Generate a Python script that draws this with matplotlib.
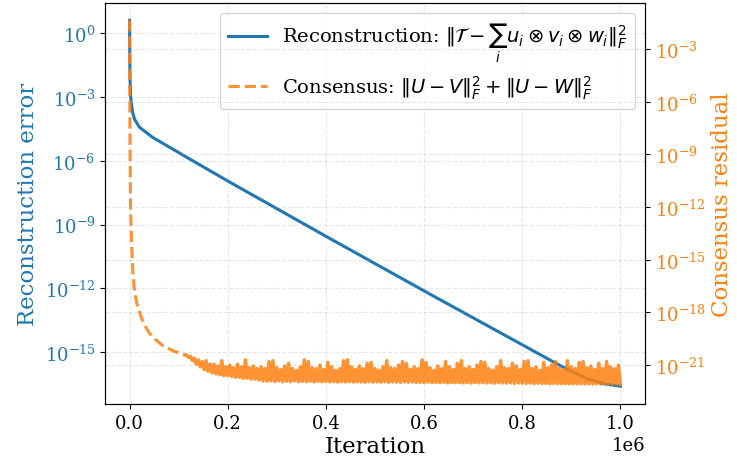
import numpy as np
import matplotlib

matplotlib.use("Agg")
import matplotlib.pyplot as plt

# reconstruction error (log10)
recon_iter = [0, 500, 1000, 2000, 3000, 6000, 10000, 20000, 47000, 116000, 200000,
              400000, 612000, 800000, 863000, 900000, 933000, 966000, 1000000]
recon_log = [0.6, -1.2, -2.2, -2.9, -3.2, -3.7, -4.04, -4.42, -4.9, -5.83, -6.95,
             -9.55, -12.27, -14.65, -15.45, -15.9, -16.25, -16.48, -16.6]

# consensus residual (log10), smooth early part
consensus_iter = [0, 500, 1000, 2000, 4000, 7000, 10000, 15000, 24000, 32000, 41000,
                  55000, 68000, 90000, 116000]
consensus_log = [-1.35, -6.0, -9.0, -12.0, -14.0, -15.8, -16.8, -17.5, -18.3, -18.8, -19.2,
                 -19.6, -19.9, -20.2, -20.45]

# consensus residual (log10), noisy floor from 116k to 1M iterations:
# upper and lower values of each oscillation
noise_start, noise_stop = 116000, 1000000
noise_high = [
    -20.45, -20.5, -20.6, -20.7, -20.8, -20.75, -20.95,
    -20.95, -21.05, -20.75, -21.1, -21.0, -21.15, -20.95, -21.1, -20.7, -21.15, -21.05, -21.2,
    -21.1, -21.2, -20.8, -20.75, -21.15, -21.25, -21.05, -20.9, -21.2, -21.3,
    -21.1, -20.7, -20.8, -21.15, -21.2, -21.0, -21.25, -20.85, -21.1, -21.3,
    -21.2, -20.75, -20.7, -21.1, -21.25, -21.05, -21.2, -20.9, -20.85, -21.2,
    -21.3, -21.1, -20.75, -21.15, -21.2, -21.0, -20.8, -20.9, -21.25, -21.1,
    -21.2, -20.7, -20.85, -21.15, -21.3, -21.05, -21.2, -20.8, -21.1, -21.25,
    -20.9, -20.75, -21.2, -21.1, -21.25, -21.0, -20.8, -20.85, -21.2, -21.3,
    -21.1, -20.75, -21.15, -21.2, -20.9, -21.05, -21.25, -20.8, -20.75, -21.2,
    -21.1, -21.3, -20.85, -21.15, -21.0, -20.8, -21.2, -21.25, -20.75, -21.1,
    -21.2, -20.85, -20.8, -21.15, -21.05, -21.25, -20.9, -21.2, -20.8, -21.1,
    -21.2, -21.0,
]
noise_low = [
    -20.55, -20.75, -20.95, -21.1, -21.25, -21.35, -21.45,
    -21.5, -21.55, -21.6, -21.6, -21.65, -21.7, -21.7, -21.75, -21.75, -21.8, -21.8, -21.85,
    -21.9, -21.92, -21.9, -21.93, -21.9, -21.95, -21.92, -21.94, -21.9, -21.95,
    -21.93, -21.95, -21.92, -21.96, -21.94, -21.95, -21.93, -21.96, -21.95, -21.97,
    -21.95, -21.96, -21.94, -21.97, -21.95, -21.96, -21.98, -21.95, -21.97, -21.96,
    -21.97, -21.95, -21.98, -21.96, -21.97, -21.99, -21.96, -21.98, -21.97, -21.99,
    -21.98, -22.0, -21.97, -21.99, -21.98, -22.0, -21.98, -22.01, -21.99, -22.0,
    -21.99, -22.01, -22.0, -22.02, -21.99, -22.01, -22.0, -22.02, -22.01, -22.03,
    -22.0, -22.02, -22.03, -22.01, -22.04, -22.02, -22.03, -22.04, -22.02, -22.05,
    -22.03, -22.05, -22.04, -22.06, -22.04, -22.05, -22.06, -22.05, -22.07, -22.06,
    -22.07, -22.06, -22.08, -22.07, -22.08, -22.07, -22.09, -22.08, -22.09, -22.08,
    -22.1, -22.1,
]

plt.rcParams["font.family"] = "DejaVu Serif"

blue = "#1f77b4"
orange = "#ff7f0e"

fig, ax1 = plt.subplots(figsize=(7.37, 4.64), dpi=100)
fig.subplots_adjust(left=0.1425, right=0.875, bottom=0.127, top=0.991)
ax2 = ax1.twinx()

(l1,) = ax1.plot(recon_iter, 10.0 ** np.array(recon_log), color=blue, lw=2.2,
                 label=r"Reconstruction: $\|\mathcal{T} - \sum_i u_i \otimes v_i \otimes w_i\|_F^2$")
(l2,) = ax2.plot(consensus_iter, 10.0 ** np.array(consensus_log), color=orange, lw=2.2, ls="--",
                 alpha=0.85, label=r"Consensus: $\|U - V\|_F^2 + \|U - W\|_F^2$")

# the floor oscillates every sample: interleave high and low readings
noise_log = np.column_stack([noise_high, noise_low]).ravel()
noise_iter = np.linspace(noise_start, noise_stop, len(noise_log))
ax2.plot(noise_iter, 10.0 ** noise_log, color=orange, lw=2.5, alpha=0.85)

ax1.set_yscale("log")
ax2.set_yscale("log")
ax1.set_ylim(10 ** -17.44, 10 ** 1.41)
ax2.set_ylim(10 ** -23.22, 10 ** -0.38)
ax1.yaxis.set_minor_locator(matplotlib.ticker.NullLocator())
ax2.yaxis.set_minor_locator(matplotlib.ticker.NullLocator())

ax1.set_xlabel("Iteration", fontsize=16.5, labelpad=2)
ax1.set_ylabel("Reconstruction error", color=blue, fontsize=16.5)
ax2.set_ylabel("Consensus residual", color=orange, fontsize=16.5)
ax1.tick_params(axis="y", labelcolor=blue, labelsize=13)
ax1.tick_params(axis="x", labelsize=13)
ax2.tick_params(axis="y", labelcolor=orange, labelsize=13)
ax1.xaxis.get_offset_text().set_fontsize(13)

ax1.grid(True, ls="--", alpha=0.3)
ax2.grid(True, ls="--", alpha=0.3)

ax1.legend(handles=[l1, l2], loc="upper right", fontsize=14)

fig.savefig("out.png", dpi=100)
